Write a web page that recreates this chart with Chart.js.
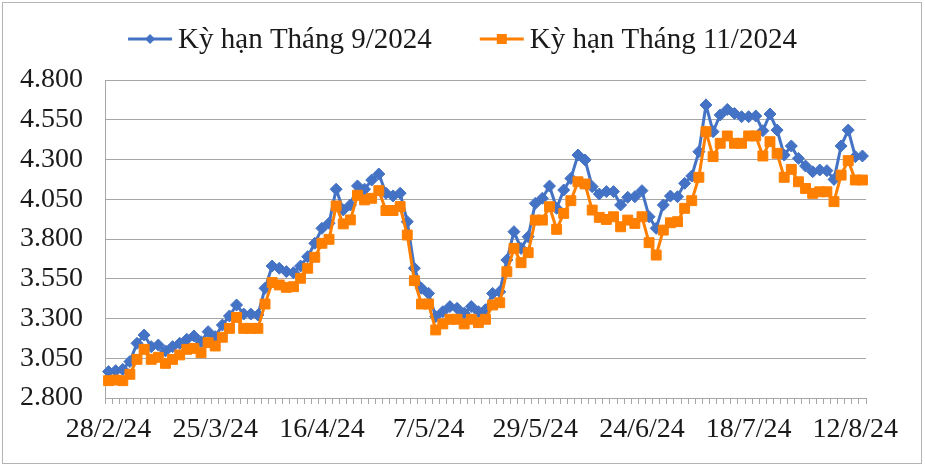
<!DOCTYPE html>
<html>
<head>
<meta charset="utf-8">
<script src="https://cdn.jsdelivr.net/npm/chart.js@4.4.1/dist/chart.umd.min.js"></script>
<style>
  html, body { margin: 0; padding: 0; background: #fff; }
  canvas { display: block; }
</style>
</head>
<body>
<canvas id="myChart" width="925" height="468"></canvas>
<script>
// x axis: one category per session, a date label every 15th one
const tickLabels = ['28/2/24', '25/3/24', '16/4/24', '7/5/24', '29/5/24', '24/6/24', '18/7/24', '12/8/24'];
const labelStep = 15;

const seriesNames = ['Kỳ hạn Tháng 9/2024', 'Kỳ hạn Tháng 11/2024'];
const colors = ['#4472C4', '#FF7F00'];

// USD/tấn
const sep2024 = [
  2966, 2972, 2980, 3029, 3144, 3196, 3123, 3133, 3096, 3123,
  3144, 3169, 3190, 3154, 3217, 3186, 3259, 3316, 3385, 3328,
  3328, 3322, 3490, 3630, 3616, 3595, 3588, 3630, 3689, 3773,
  3867, 3899, 4113, 3983, 4014, 4134, 4113, 4171, 4209, 4088,
  4071, 4088, 3909, 3616, 3490, 3458, 3312, 3343, 3375, 3364,
  3333, 3375, 3343, 3355, 3458, 3468, 3668, 3846, 3741, 3814,
  4024, 4056, 4133, 3993, 4108, 4181, 4328, 4297, 4129, 4083,
  4098, 4098, 4014, 4062, 4066, 4104, 3940, 3867, 4014, 4070,
  4066, 4150, 4196, 4349, 4643, 4475, 4580, 4615, 4590, 4569,
  4569, 4574, 4481, 4586, 4485, 4328, 4385, 4307, 4259, 4223,
  4234, 4230, 4175, 4385, 4485, 4318, 4322
];

const nov2024 = [
  2909, 2913, 2909, 2949, 3043, 3106, 3043, 3056, 3018, 3043,
  3071, 3106, 3112, 3085, 3148, 3127, 3182, 3238, 3307, 3238,
  3238, 3238, 3391, 3526, 3511, 3496, 3500, 3553, 3616, 3685,
  3773, 3798, 4008, 3895, 3920, 4075, 4046, 4056, 4104, 3979,
  3979, 4004, 3825, 3538, 3391, 3391, 3228, 3266, 3295, 3295,
  3266, 3295, 3274, 3295, 3385, 3399, 3594, 3741, 3651, 3714,
  3919, 3919, 4003, 3861, 3961, 4041, 4160, 4146, 3982, 3936,
  3923, 3940, 3877, 3919, 3898, 3940, 3777, 3699, 3856, 3902,
  3909, 3993, 4041, 4188, 4475, 4318, 4402, 4448, 4402, 4402,
  4448, 4448, 4322, 4412, 4339, 4188, 4238, 4160, 4118, 4087,
  4097, 4097, 4035, 4202, 4293, 4171, 4171
];

const categories = sep2024.map((_, i) => (i % labelStep === 0 ? tickLabels[i / labelStep] || '' : ''));

const FONT = '"Liberation Serif", "Times New Roman", serif';
const GRID = '#a6a6a6';

function drawMarker(ctx, style, x, y, r, color) {
  ctx.fillStyle = color;
  ctx.beginPath();
  if (style === 'rectRot') {
    ctx.moveTo(x, y - r);
    ctx.lineTo(x + r, y);
    ctx.lineTo(x, y + r);
    ctx.lineTo(x - r, y);
    ctx.closePath();
  } else {
    ctx.rect(x - r, y - r, r * 2, r * 2);
  }
  ctx.fill();
}

// Excel-like legend: short line with the marker on it, then the name
const excelLegend = {
  id: 'excelLegend',
  afterDraw(chart) {
    const { ctx } = chart;
    const lineLen = 44;
    const gap = 6;
    const itemGap = 48;
    const y = 39;
    ctx.save();
    ctx.font = '29px ' + FONT;
    ctx.textBaseline = 'middle';
    const items = chart.data.datasets.map((ds) => ({ ds, w: ctx.measureText(ds.label).width }));
    const total = items.reduce((s, it) => s + lineLen + gap + it.w, 0) + itemGap * (items.length - 1);
    let x = (chart.width - total) / 2;
    items.forEach(({ ds, w }) => {
      ctx.strokeStyle = ds.borderColor;
      ctx.lineWidth = 3;
      ctx.beginPath();
      ctx.moveTo(x, y);
      ctx.lineTo(x + lineLen, y);
      ctx.stroke();
      drawMarker(ctx, ds.pointStyle, x + lineLen / 2, y, 5, ds.borderColor);
      ctx.fillStyle = '#1a1a1a';
      ctx.fillText(ds.label, x + lineLen + gap, y + 1);
      x += lineLen + gap + w + itemGap;
    });
    ctx.restore();
  }
};

const frame = {
  id: 'frame',
  beforeDraw(chart) {
    const { ctx } = chart;
    ctx.save();
    ctx.fillStyle = '#fff';
    ctx.fillRect(0, 0, chart.width, chart.height);
    ctx.strokeStyle = '#b4b4b4';
    ctx.lineWidth = 1;
    ctx.strokeRect(2.5, 2.5, chart.width - 6, chart.height - 7);
    ctx.restore();
  }
};

const chartRef = document.getElementById('myChart');
new Chart(chartRef, {
  type: 'line',
  data: {
    labels: categories,
    datasets: [
      {
        label: seriesNames[0],
        data: sep2024,
        borderColor: colors[0],
        backgroundColor: colors[0],
        borderWidth: 3,
        pointStyle: 'rectRot',
        pointRadius: 6,
        pointBorderWidth: 1,
        tension: 0,
        order: 1,
      },
      {
        label: seriesNames[1],
        data: nov2024,
        borderColor: colors[1],
        backgroundColor: colors[1],
        borderWidth: 3,
        pointStyle: 'rect',
        pointRadius: 7,
        pointBorderWidth: 1,
        tension: 0,
        order: 0,
      },
    ],
  },
  options: {
    responsive: false,
    animation: false,
    layout: { padding: { top: 80, right: 59, left: 0, bottom: 0 } },
    plugins: {
      legend: { display: false },
      tooltip: { enabled: false },
    },
    scales: {
      x: {
        offset: true,
        afterFit: (scale) => { scale.height = 70; },
        grid: {
          offset: true,
          drawOnChartArea: false,
          drawTicks: true,
          tickLength: 6,
          color: GRID,
        },
        border: { color: GRID },
        ticks: {
          autoSkip: false,
          maxRotation: 0,
          minRotation: 0,
          padding: 9,
          color: '#1a1a1a',
          font: { family: FONT, size: 28 },
        },
      },
      y: {
        min: 2800,
        max: 4800,
        afterFit: (scale) => { scale.width = 105; },
        grid: { color: GRID, drawTicks: false },
        border: { color: GRID },
        ticks: {
          stepSize: 250,
          padding: 22,
          color: '#1a1a1a',
          font: { family: FONT, size: 28 },
          callback: (v) => String(v).replace(/\B(?=(\d{3})+(?!\d))/g, '.'),
        },
      },
    },
  },
  plugins: [frame, excelLegend],
});
</script>
</body>
</html>
